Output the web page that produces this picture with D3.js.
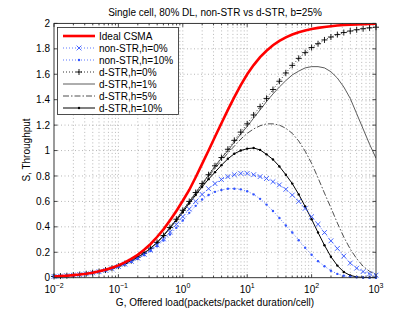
<!DOCTYPE html>
<html>
<head>
<meta charset="utf-8">
<script src="https://cdn.jsdelivr.net/npm/d3@7"></script>
<style>
body { margin: 0; background: #fff; }
svg { display: block; font-family: "Liberation Sans", Arial, sans-serif; }
</style>
</head>
<body>
<div id="chart"></div>
<script>
var width = 415, height = 312;

// offered load, log10(G)
var logG = [-2.0, -1.9, -1.8, -1.7, -1.6, -1.5, -1.4, -1.3, -1.2, -1.1,
  -1.0, -0.9, -0.8, -0.7, -0.6, -0.5, -0.4, -0.3, -0.2, -0.1,
  0.0, 0.1, 0.2, 0.3, 0.4, 0.5, 0.6, 0.7, 0.8, 0.9,
  1.0, 1.1, 1.2, 1.3, 1.4, 1.5, 1.6, 1.7, 1.8, 1.9,
  2.0, 2.1, 2.2, 2.3, 2.4, 2.5, 2.6, 2.7, 2.8, 2.9, 3.0];

var idealCsma = [0.010, 0.0126, 0.0158, 0.020, 0.025, 0.0315, 0.0395, 0.050, 0.062, 0.078,
  0.097, 0.120, 0.148, 0.180, 0.220, 0.265, 0.320, 0.380, 0.450, 0.525,
  0.605, 0.690, 0.790, 0.895, 1.000, 1.108, 1.215, 1.320, 1.420, 1.515,
  1.600, 1.672, 1.735, 1.785, 1.828, 1.862, 1.890, 1.913, 1.931, 1.945,
  1.956, 1.965, 1.972, 1.978, 1.983, 1.987, 1.990, 1.992, 1.994, 1.996, 1.997];

var nonStr0 = [0.010, 0.0125, 0.0157, 0.0196, 0.0245, 0.0305, 0.038, 0.047, 0.058, 0.072,
  0.088, 0.107, 0.129, 0.154, 0.184, 0.218, 0.258, 0.305, 0.358, 0.418,
  0.480, 0.540, 0.600, 0.655, 0.700, 0.740, 0.772, 0.795, 0.810, 0.820,
  0.820, 0.810, 0.795, 0.780, 0.755, 0.730, 0.695, 0.650, 0.600, 0.545,
  0.480, 0.420, 0.355, 0.290, 0.230, 0.170, 0.115, 0.075, 0.048, 0.030, 0.020];

var nonStr10 = [0.010, 0.0125, 0.0157, 0.0196, 0.0245, 0.0305, 0.038, 0.047, 0.058, 0.071,
  0.087, 0.105, 0.126, 0.150, 0.178, 0.210, 0.248, 0.292, 0.340, 0.392,
  0.450, 0.510, 0.565, 0.615, 0.650, 0.675, 0.690, 0.700, 0.700, 0.695,
  0.680, 0.655, 0.620, 0.575, 0.525, 0.470, 0.410, 0.355, 0.295, 0.235,
  0.180, 0.130, 0.090, 0.055, 0.030, 0.015, 0.007, 0.003, 0.001, 0.000, 0.000];

var dStr0 = [0.010, 0.0126, 0.0158, 0.0198, 0.0248, 0.031, 0.0388, 0.048, 0.060, 0.074,
  0.091, 0.111, 0.134, 0.161, 0.193, 0.232, 0.278, 0.332, 0.395, 0.460,
  0.530, 0.600, 0.670, 0.740, 0.810, 0.880, 0.945, 1.010, 1.080, 1.145,
  1.210, 1.280, 1.345, 1.410, 1.480, 1.545, 1.610, 1.670, 1.725, 1.770,
  1.810, 1.840, 1.870, 1.893, 1.912, 1.928, 1.940, 1.950, 1.958, 1.965, 1.970];

var dStr1 = [0.010, 0.0126, 0.0158, 0.0198, 0.0248, 0.031, 0.0388, 0.048, 0.060, 0.074,
  0.091, 0.111, 0.134, 0.161, 0.193, 0.232, 0.278, 0.332, 0.395, 0.460,
  0.528, 0.598, 0.668, 0.738, 0.806, 0.875, 0.940, 1.000, 1.065, 1.130,
  1.190, 1.255, 1.320, 1.385, 1.445, 1.500, 1.550, 1.595, 1.625, 1.650,
  1.660, 1.660, 1.650, 1.620, 1.570, 1.500, 1.410, 1.290, 1.170, 1.050, 0.940];

var dStr5 = [0.010, 0.0126, 0.0158, 0.0198, 0.0248, 0.031, 0.0388, 0.048, 0.060, 0.074,
  0.091, 0.111, 0.134, 0.161, 0.193, 0.232, 0.278, 0.332, 0.393, 0.458,
  0.525, 0.595, 0.660, 0.730, 0.795, 0.860, 0.920, 0.980, 1.035, 1.090,
  1.135, 1.170, 1.195, 1.210, 1.210, 1.200, 1.175, 1.135, 1.075, 0.995,
  0.900, 0.785, 0.665, 0.550, 0.430, 0.320, 0.225, 0.150, 0.090, 0.050, 0.025];

var dStr10 = [0.010, 0.0126, 0.0158, 0.0198, 0.0248, 0.031, 0.0388, 0.048, 0.060, 0.074,
  0.091, 0.111, 0.134, 0.161, 0.193, 0.231, 0.276, 0.329, 0.390, 0.450,
  0.515, 0.585, 0.650, 0.715, 0.775, 0.830, 0.885, 0.935, 0.975, 1.000,
  1.015, 1.020, 1.005, 0.970, 0.930, 0.875, 0.810, 0.740, 0.655, 0.560,
  0.460, 0.355, 0.255, 0.165, 0.095, 0.045, 0.018, 0.006, 0.002, 0.001, 0.000];

var yTicks = [0, 0.2, 0.4, 0.6, 0.8, 1, 1.2, 1.4, 1.6, 1.8, 2];
var xDecades = [-2, -1, 0, 1, 2, 3];

var series = [
  {name: 'Ideal CSMA', values: idealCsma, color: '#ff0000', width: 2.6, dash: null, marker: null},
  {name: 'non-STR,h=0%', values: nonStr0, color: '#3355ff', width: 0.8, dash: '1,2', marker: 'x'},
  {name: 'non-STR,h=10%', values: nonStr10, color: '#3355ff', width: 0.8, dash: '1,2', marker: 'dot'},
  {name: 'd-STR,h=0%', values: dStr0, color: '#000', width: 0.8, dash: '1,2', marker: '+'},
  {name: 'd-STR,h=1%', values: dStr1, color: '#333', width: 0.8, dash: null, marker: null},
  {name: 'd-STR,h=5%', values: dStr5, color: '#222', width: 0.8, dash: '6,2,1.5,2', marker: null},
  {name: 'd-STR,h=10%', values: dStr10, color: '#000', width: 1, dash: null, marker: 'dot'}
];

var plotL = 54, plotR = 376, plotT = 23.4, plotB = 277.7;

var x = d3.scaleLog().domain([0.01, 1000]).range([plotL, plotR]);
var y = d3.scaleLinear().domain([0, 2]).range([plotB, plotT]);

var svg = d3.select('#chart').append('svg')
  .attr('width', width)
  .attr('height', height);

svg.append('defs').append('clipPath').attr('id', 'plot')
  .append('rect').attr('x', plotL).attr('y', plotT)
  .attr('width', plotR - plotL).attr('height', plotB - plotT);

// grid
var xt = x.ticks();
var isMajor = function(v) { return Math.abs(Math.log10(v) - Math.round(Math.log10(v))) < 1e-6; };
svg.append('g').selectAll('line')
  .data(xt.filter(function(v) { return v > 0.011 && v < 999; })).enter()
  .append('line')
    .attr('x1', function(d) { return x(d); }).attr('x2', function(d) { return x(d); })
    .attr('y1', plotT).attr('y2', plotB)
    .attr('stroke', '#999').attr('stroke-width', 0.7).attr('stroke-dasharray', '1,2.5');
svg.append('g').selectAll('line')
  .data(yTicks.slice(1, -1)).enter()
  .append('line')
    .attr('x1', plotL).attr('x2', plotR)
    .attr('y1', function(d) { return y(d); }).attr('y2', function(d) { return y(d); })
    .attr('stroke', '#999').attr('stroke-width', 0.7).attr('stroke-dasharray', '1,2.5');

// ticks (inside, all four sides)
var tk = svg.append('g').attr('stroke', '#222').attr('stroke-width', 0.8);
xt.forEach(function(v) {
  var len = isMajor(v) ? 3.5 : 2;
  tk.append('line').attr('x1', x(v)).attr('x2', x(v)).attr('y1', plotB).attr('y2', plotB - len);
  tk.append('line').attr('x1', x(v)).attr('x2', x(v)).attr('y1', plotT).attr('y2', plotT + len);
});
yTicks.forEach(function(v) {
  tk.append('line').attr('x1', plotL).attr('x2', plotL + 3.5).attr('y1', y(v)).attr('y2', y(v));
  tk.append('line').attr('x1', plotR).attr('x2', plotR - 3.5).attr('y1', y(v)).attr('y2', y(v));
});

// curves
var line = function(vals) {
  return d3.line()
    .x(function(d, i) { return x(Math.pow(10, logG[i])); })
    .y(function(d) { return y(d); })(vals);
};

function drawMarker(g, type, cx, cy, color) {
  if (type === 'x') {
    g.append('path').attr('d', 'M' + (cx - 2.4) + ',' + (cy - 2.4) + 'L' + (cx + 2.4) + ',' + (cy + 2.4) +
      'M' + (cx - 2.4) + ',' + (cy + 2.4) + 'L' + (cx + 2.4) + ',' + (cy - 2.4))
      .attr('stroke', color).attr('stroke-width', 0.9).attr('fill', 'none');
  } else if (type === '+') {
    g.append('path').attr('d', 'M' + (cx - 3) + ',' + cy + 'L' + (cx + 3) + ',' + cy +
      'M' + cx + ',' + (cy - 3) + 'L' + cx + ',' + (cy + 3))
      .attr('stroke', color).attr('stroke-width', 0.9).attr('fill', 'none');
  } else if (type === 'dot') {
    g.append('circle').attr('cx', cx).attr('cy', cy).attr('r', 1.2).attr('fill', color);
  }
}

var plotG = svg.append('g');
series.slice().reverse().forEach(function(s) {
  plotG.append('path')
    .attr('d', line(s.values))
    .attr('clip-path', 'url(#plot)')
    .attr('fill', 'none')
    .attr('stroke', s.color)
    .attr('stroke-width', s.width)
    .attr('stroke-dasharray', s.dash);
  if (s.marker) {
    var mg = plotG.append('g');
    s.values.forEach(function(v, i) {
      drawMarker(mg, s.marker, x(Math.pow(10, logG[i])), y(v), s.color);
    });
  }
});

// frame
svg.append('rect').attr('x', plotL).attr('y', plotT)
  .attr('width', plotR - plotL).attr('height', plotB - plotT)
  .attr('fill', 'none').attr('stroke', '#222').attr('stroke-width', 0.9);

// tick labels
var lab = svg.append('g').attr('font-size', 10).attr('fill', '#000');
yTicks.forEach(function(v) {
  lab.append('text').attr('x', plotL - 4).attr('y', y(v) + 3.6)
    .attr('text-anchor', 'end').text(String(+v.toFixed(1)));
});
xDecades.forEach(function(p) {
  var t = lab.append('text').attr('x', x(Math.pow(10, p))).attr('y', 293)
    .attr('text-anchor', 'middle');
  t.append('tspan').text('10');
  t.append('tspan').attr('font-size', 7).attr('dy', -5).text(p < 0 ? '\u2212' + (-p) : p);
});

// titles
svg.append('text').attr('x', (plotL + plotR) / 2).attr('y', 15.5)
  .attr('text-anchor', 'middle').attr('font-size', 10)
  .text('Single cell, 80% DL, non-STR vs d-STR, b=25%');
svg.append('text').attr('x', (plotL + plotR) / 2).attr('y', 305.5)
  .attr('text-anchor', 'middle').attr('font-size', 10)
  .text('G, Offered load(packets/packet duration/cell)');
svg.append('text').attr('transform', 'translate(30,150) rotate(-90)')
  .attr('text-anchor', 'middle').attr('font-size', 10)
  .text('S, Throughput');

// legend
var lg = svg.append('g');
lg.append('rect').attr('x', 57.5).attr('y', 27.5).attr('width', 121).attr('height', 87)
  .attr('fill', '#fff').attr('stroke', '#222').attr('stroke-width', 0.8);
series.forEach(function(s, i) {
  var ly = 36 + i * 12;
  lg.append('line').attr('x1', 63).attr('x2', 95).attr('y1', ly).attr('y2', ly)
    .attr('stroke', s.color).attr('stroke-width', s.width).attr('stroke-dasharray', s.dash);
  if (s.marker) drawMarker(lg, s.marker, 79, ly, s.color);
  lg.append('text').attr('x', 99).attr('y', ly + 3.6).attr('font-size', 10).text(s.name);
});
</script>
</body>
</html>
